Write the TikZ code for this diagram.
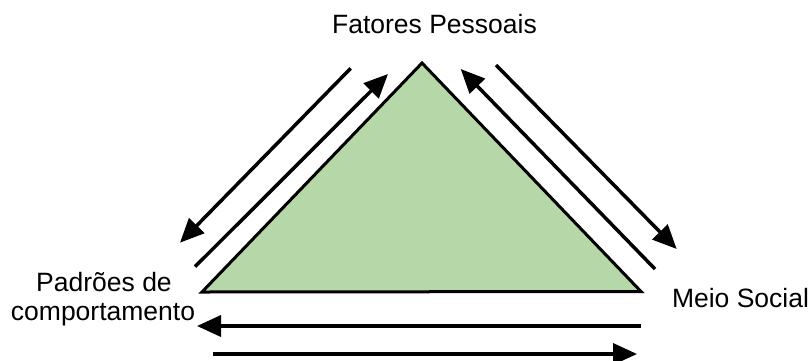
\documentclass[tikz,border=0pt]{standalone}
\usepackage{fontspec}
\setmainfont{Liberation Sans}
\usetikzlibrary{arrows.meta}
\definecolor{tri}{HTML}{B6D7A8}
\tikzset{
  lbl/.style={inner sep=0pt, anchor=base, font=\fontsize{26.5}{29}\selectfont},
  arr/.style={line width=3.5pt, -{Triangle[length=24pt,width=21pt]}},
  tribox/.style={fill=tri, draw=black, line width=3pt, line join=miter}
}
\begin{document}
\begin{tikzpicture}[x=1pt,y=-1pt]
\useasboundingbox (0,0) rectangle (811,360);
% triangle
\coordinate (A) at (422,63);
\coordinate (B) at (202,292);
\coordinate (C) at (641,291.5);
\draw[tribox] (A) -- (B) -- (C) -- cycle;
% labels
\node[lbl] (fp) at (434.5,33) {Fatores Pessoais};
\node[lbl] (pd1) at (104,291.7) {Padrões de};
\node[lbl] (pd2) at (103,320.7) {comportamento};
\node[lbl] (ms) at (740.5,307.3) {Meio Social};
% arrow ends
\coordinate (l1s) at (350.7,68.3);
\coordinate (l1e) at (180,242.7);
\coordinate (l2s) at (195,266.7);
\coordinate (l2e) at (388,74);
\coordinate (r1s) at (496,65);
\coordinate (r1e) at (676.7,249);
\coordinate (r2s) at (655,269);
\coordinate (r2e) at (460.7,69);
\coordinate (b1s) at (641,326);
\coordinate (b1e) at (197,326);
\coordinate (b2s) at (213,354);
\coordinate (b2e) at (637,354);
\draw[arr] (l1s) -- (l1e);
\draw[arr] (l2s) -- (l2e);
\draw[arr] (r1s) -- (r1e);
\draw[arr] (r2s) -- (r2e);
\draw[arr] (b1s) -- (b1e);
\draw[arr] (b2s) -- (b2e);
\end{tikzpicture}
\end{document}
